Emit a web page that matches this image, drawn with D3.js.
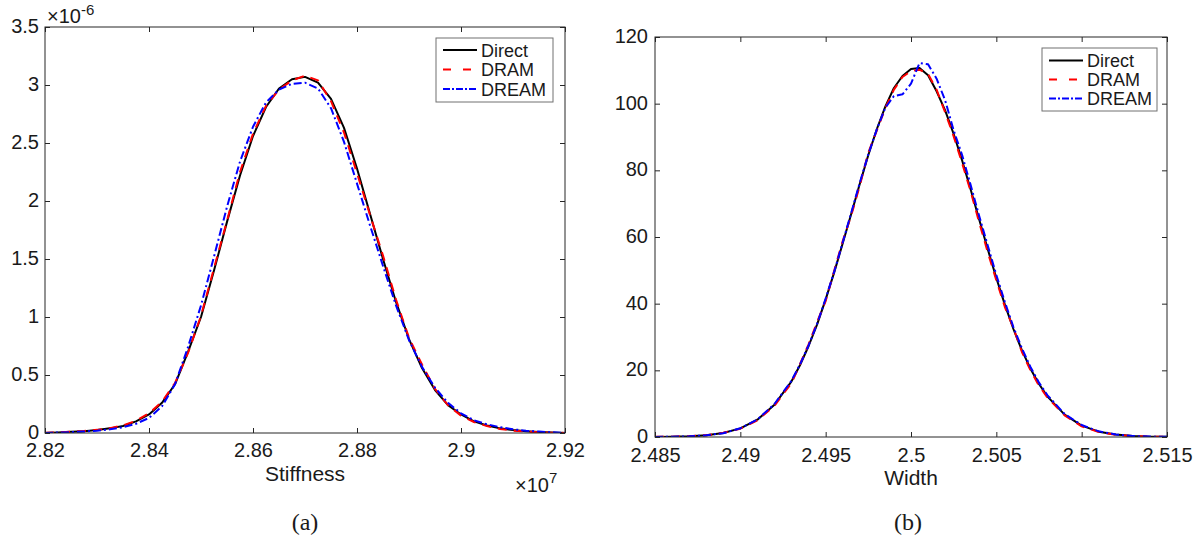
<!DOCTYPE html>
<html><head><meta charset="utf-8">
<script src="https://cdn.jsdelivr.net/npm/d3@7"></script>
<style>
html,body{margin:0;padding:0;background:#fff;}
svg{display:block;}
text{font-family:"Liberation Sans",Arial,Helvetica,sans-serif;fill:#1a1a1a;}
</style></head>
<body>
<svg id="c" width="1203" height="548"></svg>
<script>
// ---------- Panel (a): Stiffness (x in units of 1e7, density in units of 1e-6)
const stiffX = [2.8200,2.8225,2.8250,2.8275,2.8300,2.8325,2.8350,2.8375,2.8400,2.8425,2.8450,2.8475,2.8500,2.8525,2.8550,2.8575,2.8600,2.8625,2.8650,2.8675,2.8700,2.8725,2.8750,2.8775,2.8800,2.8825,2.8850,2.8875,2.8900,2.8925,2.8950,2.8975,2.9000,2.9025,2.9050,2.9075,2.9100,2.9125,2.9150,2.9175,2.9200];
const stiffDirect = [0.000,0.005,0.010,0.015,0.025,0.040,0.060,0.100,0.160,0.260,0.420,0.700,1.000,1.400,1.820,2.220,2.560,2.810,2.970,3.050,3.070,3.020,2.880,2.630,2.280,1.890,1.500,1.130,0.810,0.560,0.370,0.240,0.160,0.100,0.065,0.040,0.025,0.015,0.008,0.004,0.000];
const stiffDRAM   = [0.003,0.006,0.012,0.017,0.027,0.042,0.065,0.105,0.170,0.270,0.430,0.690,1.010,1.420,1.830,2.250,2.580,2.820,2.960,3.040,3.080,3.040,2.860,2.590,2.240,1.880,1.530,1.150,0.820,0.590,0.380,0.240,0.150,0.095,0.060,0.035,0.020,0.012,0.006,0.003,0.001];
const stiffDREAM  = [0.000,0.004,0.008,0.013,0.020,0.032,0.050,0.080,0.130,0.230,0.420,0.740,1.100,1.520,1.950,2.340,2.640,2.850,2.960,3.010,3.020,2.970,2.800,2.510,2.150,1.790,1.440,1.100,0.800,0.570,0.390,0.260,0.170,0.110,0.075,0.050,0.032,0.020,0.012,0.006,0.002];
const stiffXTicks = [2.82,2.84,2.86,2.88,2.9,2.92];
const stiffXTickLabels = ["2.82","2.84","2.86","2.88","2.9","2.92"];
const stiffYTicks = [0,0.5,1,1.5,2,2.5,3,3.5];
const stiffYTickLabels = ["0","0.5","1","1.5","2","2.5","3","3.5"];

// ---------- Panel (b): Width
const widthX = [2.485,2.486,2.487,2.488,2.489,2.490,2.491,2.492,
  2.4930,2.4935,2.4940,2.4945,2.4950,2.4955,2.4960,2.4965,2.4970,2.4975,2.4980,2.4985,2.4990,2.4995,2.5000,2.5005,2.5010,2.5015,2.5020,2.5025,2.5030,2.5035,2.5040,2.5045,2.5050,2.5055,2.5060,2.5065,2.5070,2.5075,2.5080,
  2.509,2.510,2.511,2.512,2.513,2.514,2.515];
const widthDirect = [0.03,0.08,0.21,0.51,1.19,2.58,5.18,9.7,
  16.7,21.6,27.3,33.8,41.3,49.4,58.1,67.0,76.0,84.6,92.4,99.2,104.7,108.3,110.4,110.7,108.5,103.7,98.0,90.9,82.9,74.2,65.2,56.3,47.7,39.7,32.4,26.0,20.5,15.9,12.1,
  6.7,3.4,1.6,0.72,0.29,0.11,0.04];
const widthDRAM = [0.04,0.09,0.23,0.55,1.25,2.5,5.0,9.4,
  16.2,21.9,27.8,34.5,40.8,49.9,58.8,66.5,75.4,85.3,92.0,98.7,104.2,108.0,109.8,110.2,108.9,104.2,97.4,90.2,82.1,73.6,64.3,55.4,47.0,39.0,32.7,25.5,20.0,15.4,11.8,
  6.5,3.2,1.5,0.68,0.27,0.10,0.05];
const widthDREAM = [0.02,0.07,0.19,0.50,1.15,2.62,5.25,9.9,
  16.9,21.8,27.5,34.0,41.5,49.6,58.4,67.3,76.3,84.8,92.3,98.8,102.3,102.8,106.0,112.2,111.8,107.5,101.0,92.0,84.5,75.5,66.2,57.4,48.6,40.5,33.0,26.6,21.0,16.3,12.5,
  6.9,3.6,1.7,0.78,0.32,0.12,0.05];
const widthXTicks = [2.485,2.49,2.495,2.5,2.505,2.51,2.515];
const widthXTickLabels = ["2.485","2.49","2.495","2.5","2.505","2.51","2.515"];
const widthYTicks = [0,20,40,60,80,100,120];
const widthYTickLabels = ["0","20","40","60","80","100","120"];

const seriesNames = ["Direct","DRAM","DREAM"];
const seriesColors = ["#000000","#ff0000","#0000ff"];
const seriesDash = [null,"9,7","8,3,2,3"];
const legendDash = [null,"8,12","7,2,2,2"];

const svg = d3.select("#c");
const axisColor = "#262626";

function panel(cfg){
  const x = d3.scaleLinear().domain(cfg.xDomain).range([cfg.x0,cfg.x1]);
  const y = d3.scaleLinear().domain(cfg.yDomain).range([cfg.y1,cfg.y0]);
  const g = svg.append("g");
  const clipId = "clip"+cfg.id;
  svg.append("clipPath").attr("id",clipId).append("rect")
    .attr("x",cfg.x0).attr("y",cfg.y0-3).attr("width",cfg.x1-cfg.x0).attr("height",cfg.y1-cfg.y0+3);

  // curves
  const line = d3.line().x(d=>x(d[0])).y(d=>y(d[1]));
  cfg.series.forEach((vals,i)=>{
    const pts = cfg.xs.map((xv,j)=>[xv,vals[j]]);
    g.append("path").attr("d",line(pts)).attr("fill","none")
      .attr("clip-path","url(#"+clipId+")")
      .attr("stroke",seriesColors[i]).attr("stroke-width",2)
      .attr("stroke-dasharray",seriesDash[i]).attr("stroke-linejoin","round");
  });

  // axes with inward ticks
  const fmtX = (d)=>cfg.xLabels[cfg.xTicks.indexOf(d)];
  const fmtY = (d)=>cfg.yLabels[cfg.yTicks.indexOf(d)];
  const ax = [
    [d3.axisBottom(x).tickValues(cfg.xTicks).tickFormat(fmtX).tickSize(-5).tickPadding(cfg.xPad), cfg.y1],
    [d3.axisTop(x).tickValues(cfg.xTicks).tickFormat("").tickSize(-5), cfg.y0],
  ];
  ax.forEach(([a,ty])=>{
    const ag = g.append("g").attr("transform",`translate(0,${ty})`).call(a.tickSizeOuter(0));
    ag.select(".domain").remove();
    ag.selectAll("line").attr("stroke",axisColor);
    ag.selectAll("text").attr("font-size",20).attr("fill","#1a1a1a").style("font-family",'"Liberation Sans",Arial,sans-serif');
  });
  const ay = [
    [d3.axisLeft(y).tickValues(cfg.yTicks).tickFormat(fmtY).tickSize(-5).tickPadding(cfg.yPad), cfg.x0],
    [d3.axisRight(y).tickValues(cfg.yTicks).tickFormat("").tickSize(-5), cfg.x1],
  ];
  ay.forEach(([a,tx])=>{
    const ag = g.append("g").attr("transform",`translate(${tx},0)`).call(a.tickSizeOuter(0));
    ag.select(".domain").remove();
    ag.selectAll("line").attr("stroke",axisColor);
    ag.selectAll("text").attr("font-size",20).attr("fill","#1a1a1a").attr("dy","0.28em").style("font-family",'"Liberation Sans",Arial,sans-serif');
  });
  g.append("rect").attr("x",cfg.x0).attr("y",cfg.y0).attr("width",cfg.x1-cfg.x0).attr("height",cfg.y1-cfg.y0)
    .attr("fill","none").attr("stroke",axisColor).attr("stroke-width",1);

  // x label
  g.append("text").attr("x",(cfg.x0+cfg.x1)/2).attr("y",cfg.xLabelY).attr("text-anchor","middle")
    .attr("font-size",21).text(cfg.xLabel);

  // legend
  const L = cfg.legend;
  g.append("rect").attr("x",L.x).attr("y",L.y).attr("width",L.w).attr("height",L.h)
    .attr("fill","#fff").attr("stroke","#707070").attr("stroke-width",1);
  seriesNames.forEach((n,i)=>{
    const ry = L.y + L.row0 + i*L.dy;
    g.append("line").attr("x1",L.x+7).attr("x2",L.x+41).attr("y1",ry).attr("y2",ry)
      .attr("stroke",seriesColors[i]).attr("stroke-width",2).attr("stroke-dasharray",legendDash[i]);
    g.append("text").attr("x",L.x+45).attr("y",ry+6.5).attr("font-size",18).text(n);
  });

  // caption
  svg.append("text").attr("x",cfg.capX).attr("y",530).attr("text-anchor","middle")
    .style("font-family",'"Liberation Serif","DejaVu Serif",serif').attr("font-size",24).text(cfg.caption);
  return g;
}

const gA = panel({id:"a", x0:45, x1:565, y0:27, y1:433,
  xDomain:[2.82,2.92], yDomain:[0,3.5], xs:stiffX, series:[stiffDirect,stiffDRAM,stiffDREAM],
  xTicks:stiffXTicks, xLabels:stiffXTickLabels, yTicks:stiffYTicks, yLabels:stiffYTickLabels,
  xPad:10, yPad:6, xLabel:"Stiffness", xLabelY:481,
  legend:{x:436,y:38,w:117,h:64,row0:12,dy:19.5}, caption:"(a)", capX:305});

// exponent annotations panel (a)
const e1 = gA.append("text").attr("x",47).attr("y",23).attr("font-size",20);
e1.append("tspan").text("×10");
e1.append("tspan").attr("dy",-8).attr("font-size",15).text("-6");
const e2 = gA.append("text").attr("x",515).attr("y",492).attr("font-size",20);
e2.append("tspan").text("×10");
e2.append("tspan").attr("dy",-9).attr("font-size",15).text("7");

panel({id:"b", x0:655, x1:1167, y0:37, y1:437,
  xDomain:[2.485,2.515], yDomain:[0,120], xs:widthX, series:[widthDirect,widthDRAM,widthDREAM],
  xTicks:widthXTicks, xLabels:widthXTickLabels, yTicks:widthYTicks, yLabels:widthYTickLabels,
  xPad:11, yPad:7, xLabel:"Width", xLabelY:485,
  legend:{x:1042,y:48,w:115,h:63,row0:12.5,dy:19}, caption:"(b)", capX:908});
</script>
</body></html>
